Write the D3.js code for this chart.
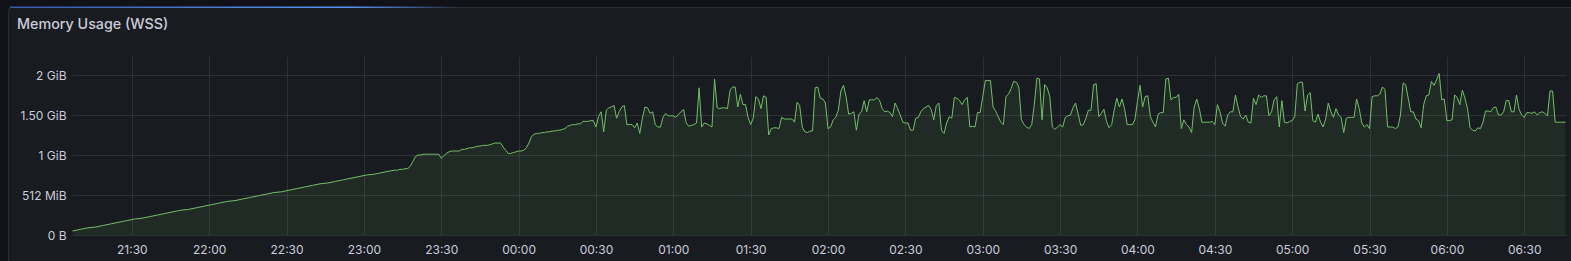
<!DOCTYPE html>
<html>
<head>
<meta charset="utf-8">
<script src="https://cdn.jsdelivr.net/npm/d3@7"></script>
<style>
  html, body { margin: 0; padding: 0; background: #111217; }
  svg { display: block; }
</style>
</head>
<body>
<svg id="chart" width="1571" height="261"></svg>
<script>
// ---------------- DATA ----------------
const title = "Memory Usage (WSS)";
const xTickLabels = ["21:30","22:00","22:30","23:00","23:30","00:00","00:30","01:00","01:30","02:00",
  "02:30","03:00","03:30","04:00","04:30","05:00","05:30","06:00","06:30"];
const yTickValuesGiB = [0, 0.5, 1, 1.5, 2];
const yTickLabels = ["0 B", "512 MiB", "1 GiB", "1.50 GiB", "2 GiB"];
const xDomainLabels = ["21:07", "06:46"];

// early ramp, 3-minute samples starting 21:07 (GiB)
const rampStart = "21:07", rampStepMin = 3;
const rampValues = [0.05,0.07,0.09,0.10,0.12,0.14,0.16,0.18,0.20,0.21,0.23,0.25,0.27,0.29,0.31,0.32,
  0.34,0.36,0.38,0.40,0.42,0.43,0.45,0.47,0.49,0.51,0.53,0.54,0.56,0.58,0.60,0.62,0.64,0.65,0.67,0.69,
  0.71,0.73,0.75,0.76,0.78,0.80];

// 1-minute samples starting 23:12 (GiB)
const minuteStart = "23:12", minuteStepMin = 1;
const v2312 = [0.81,0.81,0.82,0.82,0.83,0.83,0.86,0.92,0.98,1.00,
  1.00,1.01,1.01,1.01,1.01,1.01,1.01,1.01,0.96,0.99,
  1.02,1.04,1.05,1.05,1.05,1.05,1.07,1.07,1.08,1.09,
  1.09,1.10,1.11,1.11,1.12,1.12,1.12,1.13,1.14,1.15,
  1.15,1.15,1.10,1.06,1.02,1.02,1.03,1.04,
  1.05,1.05,1.06,1.09,1.15,1.23,1.26,1.27,1.27,1.28,
  1.28,1.29,1.29,1.30,1.30,1.31,1.31,1.32,1.33,1.36,
  1.37,1.38,1.38,1.39,1.39,1.42,1.42,1.42,1.43];
const v0029 = [1.43,1.35,1.48,1.54,1.29,1.56,1.59,1.60,1.62,1.46,
  1.54,1.60,1.62,1.38,1.38,1.38,1.34,1.40,1.27,1.46,
  1.60,1.59,1.52,1.54,1.38,1.35,1.35,1.47,1.52,1.49,
  1.49,1.49,1.47,1.51,1.54,1.57,1.40,1.36,1.37,1.38,
  1.40,1.84,1.35,1.40,1.39,1.37,1.35,1.95,1.59,1.58,
  1.59,1.59,1.58,1.81,1.85,1.85,1.60,1.76,1.63,1.63,
  1.47,1.38,1.46];
const v0132 = [1.73,1.70,1.58,1.74,1.72,1.25,1.33,1.34,1.34,1.33,
  1.47,1.45,1.45,1.45,1.45,1.41,1.66,1.62,1.35,1.29,
  1.28,1.30,1.30,1.84,1.85,1.71,1.70,1.65,1.33,1.35,
  1.44,1.47,1.56,1.80,1.87,1.73,1.51,1.52,1.54,1.31,
  1.51,1.54,1.68,1.54,1.69,1.69,1.69,1.72,1.68,1.58,
  1.54,1.55,1.53,1.48,1.65,1.58,1.50,1.41,1.40,1.40,
  1.31,1.31,1.46,1.47];
const v0236 = [1.54,1.58,1.60,1.62,1.57,1.44,1.62,1.65,1.31,1.27,
  1.40,1.48,1.46,1.72,1.71,1.68,1.63,1.69,1.72,1.35,
  1.36,1.35,1.53,1.53,1.73,1.93,1.93,1.93,1.60,1.55,
  1.48,1.41,1.38,1.73,1.76,1.83,1.92,1.91,1.85,1.44,
  1.38,1.35,1.33,1.38,1.63,1.96,1.95,1.44,1.88,1.84,
  1.73,1.35,1.32,1.35,1.38,1.35,1.47,1.49,1.50,1.59,
  1.65,1.51,1.37,1.38];
const v0340 = [1.46,1.56,1.56,1.88,1.89,1.48,1.52,1.57,1.42,1.34,
  1.38,1.56,1.71,1.60,1.70,1.58,1.38,1.38,1.38,1.44,
  1.67,1.87,1.60,1.73,1.74,1.48,1.41,1.35,1.51,1.53,
  1.53,1.95,1.96,1.69,1.72,1.72,1.76,1.33,1.44,1.38,
  1.35,1.28,1.60,1.70,1.58,1.41,1.41,1.41,1.41,1.42,
  1.38,1.63,1.54,1.40,1.36,1.50,1.54,1.54,1.75,1.60,
  1.48,1.45];
const v0442 = [1.50,1.41,1.40,1.71,1.63,1.75,1.72,1.74,1.74,1.49,
  1.54,1.69,1.73,1.35,1.68,1.41,1.40,1.42,1.43,1.48,
  1.89,1.91,1.91,1.55,1.75,1.78,1.43,1.41,1.51,1.41,
  1.35,1.45,1.65,1.54,1.47,1.58,1.50,1.47,1.28,1.46,
  1.47,1.47,1.47,1.70,1.58,1.40,1.35,1.38,1.33,1.73,
  1.74,1.74,1.76,1.85,1.82,1.35,1.35,1.35,1.33,1.35,
  1.50,1.90];
const v0544 = [1.88,1.71,1.54,1.54,1.45,1.43,1.34,1.63,1.74,1.75,
  1.92,1.87,1.94,2.02,1.69,1.70,1.43,1.43,1.44,1.75,
  1.72,1.63,1.81,1.71,1.58,1.34,1.31,1.30,1.34,1.33,
  1.41,1.55,1.55,1.54,1.59,1.60,1.50,1.50,1.54,1.68,
  1.68,1.54,1.54,1.75,1.57,1.50,1.47,1.53,1.53,1.52,
  1.54,1.50,1.53,1.54,1.52,1.49,1.80,1.80,1.41,1.41,
  1.41,1.41,1.41];

// ---------------- BUILD ----------------
const GiB = 1024 * 1024 * 1024;
// day 1 = evening, day 2 = after midnight
function toDate(hhmm) {
  const [h, m] = hhmm.split(":").map(Number);
  const day = h >= 12 ? 1 : 2;
  return new Date(Date.UTC(2024, 0, day, h, m));
}
const series = [];
{
  const t0 = toDate(rampStart).getTime();
  rampValues.forEach((v, i) => series.push({ t: new Date(t0 + i * rampStepMin * 60000), v: v * GiB }));
  const t1 = toDate(minuteStart).getTime();
  const minuteValues = [].concat(v2312, v0029, v0132, v0236, v0340, v0442, v0544);
  minuteValues.forEach((v, i) => series.push({ t: new Date(t1 + i * minuteStepMin * 60000), v: v * GiB }));
}

// ---------------- DRAW ----------------
const svg = d3.select("#chart");
const W = 1571, H = 261;
const plot = { left: 72.5, right: 1565.5, top: 57, bottom: 235 };

const defs = svg.append("defs");
const grad = defs.append("linearGradient").attr("id", "loadbar").attr("x1", "0%").attr("x2", "100%");
grad.append("stop").attr("offset", "0%").attr("stop-color", "#3d71d9").attr("stop-opacity", 0.7);
grad.append("stop").attr("offset", "75%").attr("stop-color", "#5794f2").attr("stop-opacity", 1);
grad.append("stop").attr("offset", "100%").attr("stop-color", "#5794f2").attr("stop-opacity", 0);

// panel
svg.append("rect")
  .attr("x", 8.5).attr("y", 7.5).attr("width", W + 20).attr("height", H)
  .attr("rx", 3).attr("fill", "#181b1f")
  .attr("stroke", "rgba(204,204,220,0.12)").attr("stroke-width", 1);
svg.append("rect")
  .attr("x", 10).attr("y", 6.5).attr("width", 452).attr("height", 1.5)
  .attr("fill", "url(#loadbar)");

svg.append("text")
  .attr("x", 17).attr("y", 29)
  .attr("font-family", "Inter, 'Open Sans', sans-serif")
  .attr("font-size", 14.3).attr("font-weight", 500)
  .attr("fill", "#ccccdc")
  .text(title);

const x = d3.scaleUtc()
  .domain(xDomainLabels.map(toDate))
  .range([plot.left, plot.right]);
// 80 px per GiB, as in the panel
const y = d3.scaleLinear()
  .domain([0, (plot.bottom - plot.top) / 80 * GiB])
  .range([plot.bottom, plot.top]);

const xTicks = xTickLabels.map(toDate);
const yTicks = yTickValuesGiB.map(v => v * GiB);

// grid
const grid = svg.append("g").attr("stroke", "rgba(204,204,220,0.12)").attr("stroke-width", 1);
grid.selectAll("line.h").data(yTicks).join("line")
  .attr("x1", plot.left).attr("x2", plot.right + 1)
  .attr("y1", d => Math.round(y(d)) + 0.5).attr("y2", d => Math.round(y(d)) + 0.5);
grid.selectAll("line.v").data(xTicks).join("line")
  .attr("y1", plot.top).attr("y2", plot.bottom)
  .attr("x1", d => Math.round(x(d)) + 0.5).attr("x2", d => Math.round(x(d)) + 0.5);

// area + line
const area = d3.area().x(d => x(d.t)).y0(y(0)).y1(d => y(d.v));
const line = d3.line().x(d => x(d.t)).y(d => y(d.v));
svg.append("path").datum(series).attr("d", area)
  .attr("fill", "#73bf69").attr("fill-opacity", 0.1);
svg.append("path").datum(series).attr("d", line)
  .attr("fill", "none").attr("stroke", "#73bf69").attr("stroke-width", 1)
  .attr("stroke-linejoin", "round");

// axes
const axisFont = "Inter, 'Open Sans', sans-serif";
const xAxis = d3.axisBottom(x).tickValues(xTicks).tickFormat((d, i) => xTickLabels[i]).tickSize(0).tickPadding(0);
const gx = svg.append("g").attr("transform", `translate(0,${plot.bottom})`).call(xAxis);
gx.select(".domain").remove();
gx.selectAll("text").attr("dy", null).attr("y", 18.5)
  .attr("font-family", axisFont).attr("font-size", 12).attr("fill", "#ccccdc");

const yAxis = d3.axisLeft(y).tickValues(yTicks).tickFormat((d, i) => yTickLabels[i]).tickSize(0).tickPadding(6);
const gy = svg.append("g").attr("transform", `translate(${plot.left},0)`).call(yAxis);
gy.select(".domain").remove();
gy.selectAll("text").attr("dy", "0.35em")
  .attr("font-family", axisFont).attr("font-size", 12).attr("fill", "#ccccdc");
</script>
</body>
</html>
